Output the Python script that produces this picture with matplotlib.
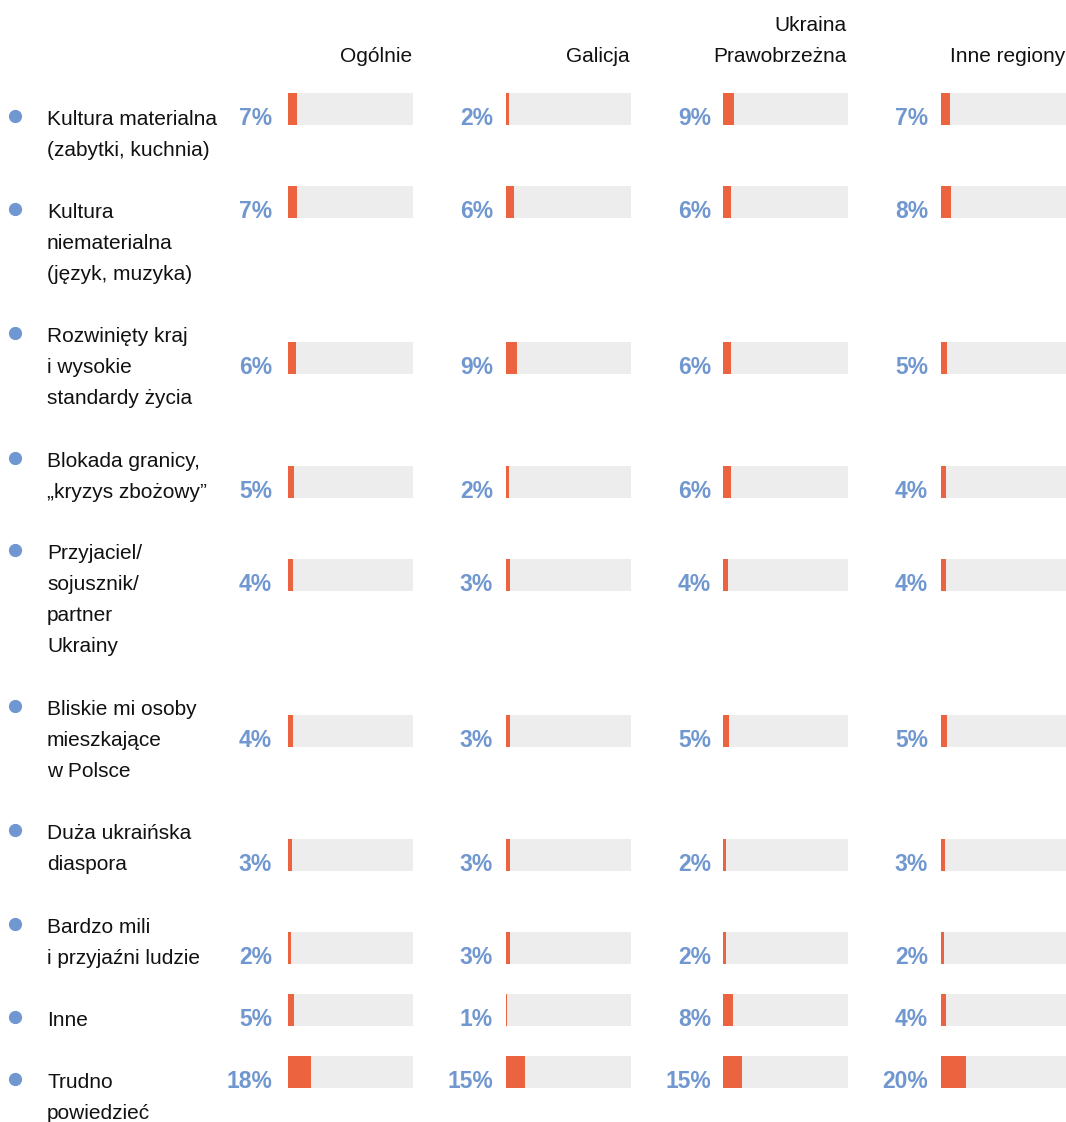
import matplotlib
matplotlib.use("Agg")
import matplotlib.pyplot as plt
from matplotlib import font_manager

# ── data ──────────────────────────────────────────────────────────────────────
categories = [
    "Kultura materialna\n(zabytki, kuchnia)",
    "Kultura\nniematerialna\n(język, muzyka)",
    "Rozwinięty kraj\ni wysokie\nstandardy życia",
    "Blokada granicy,\n„kryzys zbożowy”",
    "Przyjaciel/\nsojusznik/\npartner\nUkrainy",
    "Bliskie mi osoby\nmieszkające\nw Polsce",
    "Duża ukraińska\ndiaspora",
    "Bardzo mili\ni przyjaźni ludzie",
    "Inne",
    "Trudno\npowiedzieć",
]
regions = ["Ogólnie", "Galicja", "Ukraina\nPrawobrzeżna", "Inne regiony"]
ogolnie = [7, 7, 6, 5, 4, 4, 3, 2, 5, 18]
galicja = [2, 6, 9, 2, 3, 3, 3, 3, 1, 15]
prawobrzezna = [9, 6, 6, 6, 4, 5, 2, 2, 8, 15]
inne_regiony = [7, 8, 5, 4, 4, 5, 3, 2, 4, 20]
series = [ogolnie, galicja, prawobrzezna, inne_regiony]

# ── layout (pixels) ───────────────────────────────────────────────────────────
W, H = 1066, 1122
ROW_TOPS = [93, 186, 342, 466, 559, 715, 839, 932, 994, 1056]
LABEL_MID = [117, 210, 334, 459, 551, 707, 831, 925, 1018, 1080]
BAR_H = 32
COL_LEFT = [288, 506, 723, 941]
PCT_RIGHT = [272, 493, 711, 928]
TRACK_W = 125
LINE_GAP = 31
LABEL_SIZE = 15

ORANGE = "#EC6340"
TRACK = "#EDEDED"
BLUE = "#7097D0"
TEXT = "#111111"

available = {f.name for f in font_manager.fontManager.ttflist}
LABEL_FONT = ["Liberation Sans", "DejaVu Sans"]
for cand in ["Liberation Sans Narrow", "DejaVu Sans Condensed"]:
    if cand in available:
        LABEL_FONT = [cand, "DejaVu Sans"]
        break
PCT_FONT = ["Liberation Sans", "DejaVu Sans"]

fig = plt.figure(figsize=(W / 100, H / 100), dpi=100)
ax = fig.add_axes([0, 0, 1, 1])
ax.set_xlim(0, W)
ax.set_ylim(H, 0)
ax.axis("off")

centers = [t + BAR_H / 2 for t in ROW_TOPS]

for left, right, vals in zip(COL_LEFT, PCT_RIGHT, series):
    ax.barh(centers, [TRACK_W] * len(vals), left=left, height=BAR_H,
            color=TRACK, linewidth=0)
    ax.barh(centers, [v / 100 * TRACK_W for v in vals], left=left,
            height=BAR_H, color=ORANGE, linewidth=0)
    for top, v in zip(ROW_TOPS, vals):
        ax.text(right, top + BAR_H, f"{v}%", ha="right", va="baseline",
                fontsize=16.5, fontweight="bold", color=BLUE, family=PCT_FONT)

for left, name in zip(COL_LEFT, regions):
    lines = name.split("\n")
    for i, line in enumerate(reversed(lines)):
        ax.text(left + TRACK_W - 1, 62 - i * LINE_GAP, line, ha="right",
                va="baseline", fontsize=LABEL_SIZE, color=TEXT,
                family=LABEL_FONT)

for mid, cat in zip(LABEL_MID, categories):
    ax.plot([15], [mid - 1], "o", color=BLUE, markersize=8.5)
    for i, line in enumerate(cat.split("\n")):
        ax.text(47, mid + 8 + i * LINE_GAP, line, ha="left",
                va="baseline", fontsize=LABEL_SIZE, color=TEXT,
                family=LABEL_FONT)

fig.savefig("out.png", dpi=100)
